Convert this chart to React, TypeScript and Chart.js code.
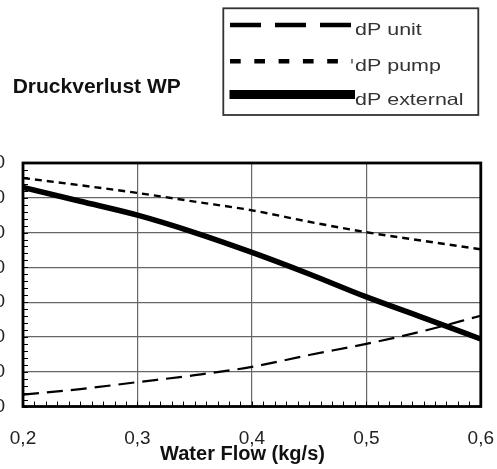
import { useEffect, useRef } from "react";
import { Chart, registerables } from "chart.js";

Chart.register(...registerables);

// ---- data ----
const flow = [0.2, 0.25, 0.3, 0.35, 0.4, 0.45, 0.5, 0.55, 0.6];
const dpUnit = [3.4, 5.0, 7.0, 9.0, 11.4, 14.8, 18.0, 21.7, 26.1];
const dpPump = [65.7, 63.6, 61.4, 58.9, 56.4, 53.1, 50.1, 47.6, 45.2];
const dpExternal = [63.0, 59.0, 55.0, 50.0, 44.3, 38.1, 31.5, 25.5, 19.4];
const seriesLabels = ["dP unit", "dP pump", "dP external"];
const chartTitle = "Druckverlust WP";
const xAxisTitle = "Water Flow (kg/s)";
const xMin = 0.2;
const xMax = 0.6;
const xStep = 0.1;
const yMin = 0;
const yMax = 70;
const yStep = 10;

const FONT = "'Liberation Sans', Arial, Helvetica, sans-serif";
const OFF = 17; // canvas is shifted left by this many px
const EXTRA = 18; // extra canvas width on the right (hidden)

const legendStyles = [
  { dash: [31, 14], width: 4.6, y: 25, x1: 230, x2: 351, textY: 35 },
  { dash: [10.7, 13.6], width: 4.6, y: 61.3, x1: 230, x2: 352.5, textY: 71 },
  { dash: [], width: 9, y: 94.5, x1: 229.5, x2: 355, textY: 105 },
];

const decorPlugin = {
  id: "decor",
  beforeDatasetsDraw(chart: any) {
    const { ctx, chartArea: a, scales } = chart;
    const xs = scales.x;
    const ys = scales.y;
    ctx.save();
    ctx.strokeStyle = "#000";
    ctx.lineWidth = 1;
    ctx.beginPath();
    for (let i = 0; i <= Math.round((xMax - xMin) / 0.01); i++) {
      const px = Math.round(xs.getPixelForValue(xMin + i * 0.01)) + 0.5;
      ctx.moveTo(px, a.bottom);
      ctx.lineTo(px, a.bottom - 5);
    }
    for (let i = 0; i <= Math.round((yMax - yMin) / 2); i++) {
      const py = Math.round(ys.getPixelForValue(yMin + i * 2)) + 0.5;
      ctx.moveTo(a.left, py);
      ctx.lineTo(a.left + 5, py);
    }
    ctx.stroke();
    ctx.restore();
  },
  afterDatasetsDraw(chart: any) {
    const { ctx, chartArea: a } = chart;
    ctx.save();
    ctx.strokeStyle = "#000";
    ctx.lineWidth = 2.8;
    ctx.strokeRect(a.left, a.top, a.right - a.left, a.bottom - a.top);
    ctx.restore();
  },
  afterDraw(chart: any) {
    const { ctx } = chart;
    ctx.save();
    // chart title
    ctx.fillStyle = "#111";
    ctx.font = `bold 21px ${FONT}`;
    ctx.textAlign = "left";
    ctx.textBaseline = "alphabetic";
    ctx.fillText(chartTitle, 12.7 + OFF, 92.7);

    // x axis title
    ctx.font = `bold 20px ${FONT}`;
    ctx.textAlign = "center";
    ctx.fillStyle = "#111";
    ctx.fillText(xAxisTitle, 242.5 + OFF, 460);

    // legend box
    ctx.strokeStyle = "#333";
    ctx.lineWidth = 1.8;
    ctx.strokeRect(223.3 + OFF, 8.3, 255, 106.7);

    chart.data.datasets.forEach((ds: any, i: number) => {
      const st = legendStyles[i];
      ctx.save();
      ctx.strokeStyle = "#000";
      ctx.lineWidth = st.width;
      ctx.lineCap = "butt";
      ctx.setLineDash(st.dash);
      ctx.beginPath();
      ctx.moveTo(st.x1 + OFF, st.y);
      ctx.lineTo(st.x2 + OFF, st.y);
      ctx.stroke();
      ctx.restore();

      ctx.save();
      ctx.fillStyle = "#333";
      ctx.font = `16.5px ${FONT}`;
      ctx.textAlign = "left";
      ctx.textBaseline = "alphabetic";
      ctx.translate(355 + OFF, st.textY);
      ctx.scale(1.3, 1);
      ctx.fillText(ds.label, 0, 0);
      ctx.restore();
    });
    ctx.restore();
  },
};

export default function App() {
  const ref = useRef<HTMLCanvasElement | null>(null);

  useEffect(() => {
    if (!ref.current) return;
    const toPts = (ys: number[]) => flow.map((x, i) => ({ x, y: ys[i] }));
    const chart = new Chart(ref.current, {
      type: "line",
      data: {
        datasets: [
          {
            label: seriesLabels[0],
            data: toPts(dpUnit),
            borderColor: "#000",
            borderWidth: 2.2,
            borderDash: [16, 8],
            pointRadius: 0,
            tension: 0.4,
            cubicInterpolationMode: "monotone",
          },
          {
            label: seriesLabels[1],
            data: toPts(dpPump),
            borderColor: "#000",
            borderWidth: 2.4,
            borderDash: [7, 5],
            pointRadius: 0,
            tension: 0.4,
            cubicInterpolationMode: "monotone",
          },
          {
            label: seriesLabels[2],
            data: toPts(dpExternal),
            borderColor: "#000",
            borderWidth: 5.5,
            pointRadius: 0,
            tension: 0.4,
            cubicInterpolationMode: "monotone",
          },
        ],
      },
      options: {
        animation: false,
        responsive: true,
        maintainAspectRatio: false,
        layout: { padding: { top: 163, bottom: 18.5, left: 0, right: OFF } },
        plugins: {
          legend: { display: false },
          title: { display: false },
          tooltip: { enabled: false },
        },
        scales: {
          x: {
            type: "linear",
            min: xMin,
            max: xMax,
            ticks: {
              stepSize: xStep,
              padding: 21,
              color: "#222",
              font: { family: FONT, size: 19 },
              maxRotation: 0,
              callback: (v: any) => Number(v).toFixed(1).replace(".", ","),
            },
            grid: { color: "#666", lineWidth: 1.2, drawTicks: false },
            border: { display: false },
            afterFit: (s: any) => {
              s.height = 44;
            },
          },
          y: {
            type: "linear",
            min: yMin,
            max: yMax,
            ticks: {
              stepSize: yStep,
              padding: 18,
              color: "#222",
              font: { family: FONT, size: 19 },
              callback: (v: any) => String(v),
            },
            grid: { color: "#666", lineWidth: 1.2, drawTicks: false },
            border: { display: false },
            afterFit: (s: any) => {
              s.width = 40;
            },
          },
        },
      },
      plugins: [decorPlugin],
    });
    return () => chart.destroy();
  }, []);

  return (
    <div
      style={{
        position: "absolute",
        left: 0,
        top: 0,
        width: 497,
        height: 469,
        overflow: "hidden",
        background: "#fff",
      }}
    >
      <div
        style={{
          position: "absolute",
          left: -OFF,
          top: 0,
          width: 497 + OFF + EXTRA,
          height: 469,
        }}
      >
        <canvas ref={ref} />
      </div>
    </div>
  );
}
